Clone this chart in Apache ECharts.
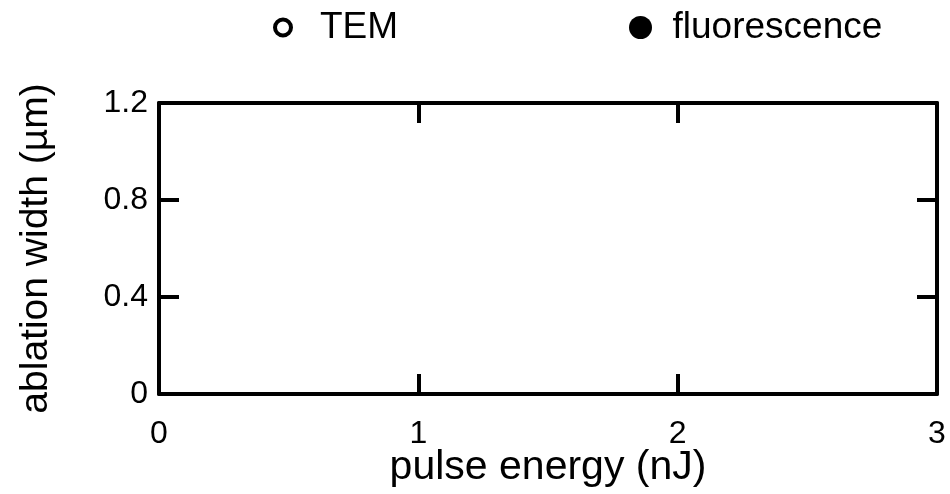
<!DOCTYPE html>
<html><head><meta charset="utf-8">
<script src="https://cdn.jsdelivr.net/npm/echarts@6/dist/echarts.min.js"></script>
<style>html,body{margin:0;padding:0;background:#fff}#c{width:950px;height:494px}</style>
</head><body><div id="c"></div>
<script>
const seriesNames = ['TEM', 'fluorescence'];
const temData = [];           // no points visible in the reference
const fluorescenceData = [];  // no points visible in the reference
const xTicks = [0, 1, 2, 3];
const yTicks = [0, 0.4, 0.8, 1.2];
const xName = 'pulse energy (nJ)';
const yName = 'ablation width (µm)';

const FONT = '"Liberation Sans", Arial, sans-serif';
const TICK_FS = 32;
const XNAME_FS = 41;
const YNAME_FS = 39;
const LEG_FS = 37;
const axisCommon = {
  axisLine: {show: true, onZero: false, lineStyle: {color: '#000', width: 4}},
  axisTick: {show: true, inside: true, length: 20, lineStyle: {color: '#000', width: 4}},
  splitLine: {show: false}
};
const chart = echarts.init(document.getElementById('c'), null, {renderer: 'canvas'});
chart.setOption({
  animation: false,
  backgroundColor: '#fff',
  textStyle: {fontFamily: FONT},
  legend: [
    {
      top: 9, left: 273, itemWidth: 64, itemHeight: 16, padding: 0,
      textStyle: {fontSize: LEG_FS, color: '#000', fontFamily: FONT},
      data: [{name: seriesNames[0], icon: 'circle',
              itemStyle: {color: '#fff', borderColor: '#000', borderWidth: 4, opacity: 1}}]
    },
    {
      top: 9, left: 629, itemWidth: 54, itemHeight: 23, padding: 0,
      textStyle: {fontSize: LEG_FS, color: '#000', fontFamily: FONT},
      data: [{name: seriesNames[1], icon: 'circle', itemStyle: {color: '#000', opacity: 1}}]
    }
  ],
  grid: {left: 159, right: 13, top: 103, bottom: 100, containLabel: false, outerBoundsMode: 'none'},
  xAxis: [
    Object.assign({
      type: 'value', position: 'bottom', min: xTicks[0], max: xTicks[xTicks.length - 1], interval: 1,
      name: xName, nameLocation: 'middle', nameGap: 53, nameMoveOverlap: false,
      nameTextStyle: {fontSize: XNAME_FS, color: '#000', fontFamily: FONT},
      axisLabel: {fontSize: TICK_FS, color: '#000', margin: 24, fontFamily: FONT}
    }, axisCommon),
    Object.assign({
      type: 'value', position: 'top', min: xTicks[0], max: xTicks[xTicks.length - 1], interval: 1,
      axisLabel: {show: false}
    }, axisCommon)
  ],
  yAxis: [
    Object.assign({
      type: 'value', position: 'left', min: yTicks[0], max: yTicks[yTicks.length - 1], interval: 0.4,
      name: yName, nameLocation: 'middle', nameGap: 103, nameMoveOverlap: false,
      nameTextStyle: {fontSize: YNAME_FS, color: '#000', fontFamily: FONT},
      axisLabel: {fontSize: TICK_FS, color: '#000', margin: 11, fontFamily: FONT,
        formatter: v => String(Math.round(v * 10) / 10)}
    }, axisCommon),
    Object.assign({
      type: 'value', position: 'right', min: yTicks[0], max: yTicks[yTicks.length - 1], interval: 0.4,
      axisLabel: {show: false}
    }, axisCommon)
  ],
  series: [
    {name: seriesNames[0], type: 'scatter', data: temData, symbol: 'circle', symbolSize: 16,
     itemStyle: {color: '#fff', borderColor: '#000', borderWidth: 4, opacity: 1}},
    {name: seriesNames[1], type: 'scatter', data: fluorescenceData, symbol: 'circle', symbolSize: 20,
     itemStyle: {color: '#000', opacity: 1}}
  ]
});
</script></body></html>
